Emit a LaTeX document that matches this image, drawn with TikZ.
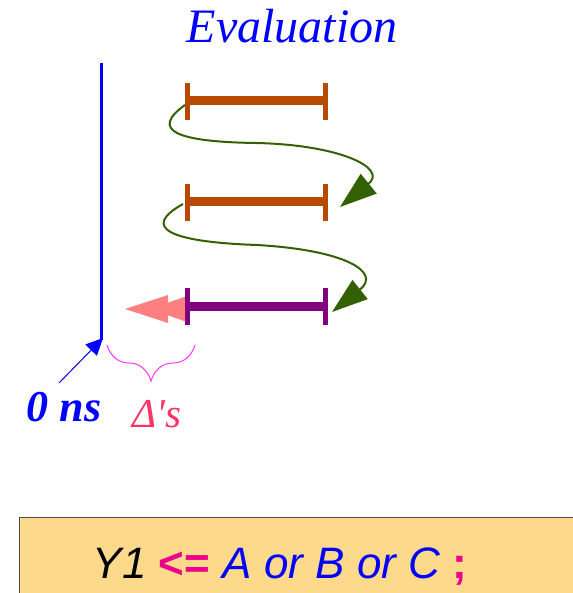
\documentclass[tikz,border=0pt]{standalone}
\usepackage{fontspec}
\setmainfont{Liberation Serif}
\newfontfamily\codefont{Liberation Sans}
\newfontfamily\deltafont{Liberation Serif}
\usetikzlibrary{arrows.meta, decorations.pathreplacing}

\definecolor{barorange}{RGB}{184,74,0}
\definecolor{barpurple}{RGB}{128,0,128}
\definecolor{loopgreen}{RGB}{51,96,0}
\definecolor{salmon}{RGB}{255,128,128}
\definecolor{deltapink}{RGB}{255,51,102}
\definecolor{bracepink}{RGB}{255,51,255}
\definecolor{stmtfill}{RGB}{253,217,140}

\begin{document}
\begin{tikzpicture}[x=1pt,y=-1pt]
    \useasboundingbox (0,0) rectangle (572,593);

    \node[blue, anchor=base, font=\fontsize{48}{50}\selectfont\itshape] (eval) at (292,43) {Evaluation};

    % time axis
    \draw[blue, line width=3pt] (101,63) -- (101,340) coordinate (t0);

    % pink double head, under the last bar
    \fill[salmon] (125,309) -- (168,295) -- (168,323) -- cycle;
    \fill[salmon] (150,309) -- (187,296) -- (187,322) -- cycle;

    \foreach \y/\c/\n in {101/barorange/1, 202/barorange/2, 306/barpurple/3} {
        \draw[\c, line width=9pt] (187,\y) coordinate (w\n) -- (326,\y) coordinate (e\n);
        \draw[\c, line width=5pt] (187.5,\y-18) -- (187.5,\y+19);
        \draw[\c, line width=5pt] (325.5,\y-18) -- (325.5,\y+19);
    }

    \draw[loopgreen, line width=2pt, -{Triangle[length=37pt,width=25pt]}]
        ([shift={(-2,4)}]w1) .. controls (150,130) and (175,142) .. (257,143)
        .. controls (340,145) and (388,168) .. (340,207);
    \draw[loopgreen, line width=2pt, -{Triangle[length=36pt,width=24pt]}]
        ([shift={(-4,2)}]w2) .. controls (140,228) and (170,242) .. (257,245)
        .. controls (345,250) and (382,272) .. (332,312);

    \node[blue, anchor=base, font=\fontsize{44}{46}\selectfont\bfseries\itshape] (zero) at (64,421) {0 ns};
    \coordinate (zs) at (59,383);
    \draw[blue, line width=1pt, -{Triangle[length=17pt,width=16pt]}] (zs) -- ([shift={(2,-2)}]t0);

    \draw[bracepink, line width=1pt, decorate, decoration={brace, mirror, amplitude=36pt}] (107,345) -- (195,345);
    \node[deltapink, anchor=base, font=\fontsize{41}{43}\selectfont\deltafont\itshape] (deltas) at (157,427) {Δ's};

    \draw[black!70, fill=stmtfill, line width=1pt] (19,517) rectangle (600,620);
    \node[anchor=base, font=\fontsize{44}{46}\selectfont\codefont] (stmt) at (280,578)
        {\textit{Y1} \textcolor{magenta}{\bfseries <=} \textcolor{blue}{\itshape A or B or C} \textcolor{magenta}{\bfseries ;}};
\end{tikzpicture}
\end{document}
